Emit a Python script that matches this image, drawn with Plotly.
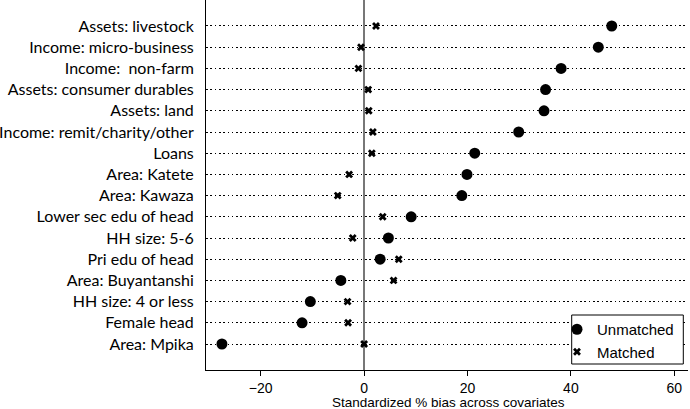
import plotly.graph_objects as go

covariates = [
    "Assets: livestock", "Income: micro-business", "Income:  non-farm",
    "Assets: consumer durables", "Assets: land", "Income: remit/charity/other",
    "Loans", "Area: Katete", "Area: Kawaza", "Lower sec edu of head",
    "HH size: 5-6", "Pri edu of head", "Area: Buyantanshi",
    "HH size: 4 or less", "Female head", "Area: Mpika",
]
unmatched = [47.9, 45.3, 38.1, 35.1, 34.8, 29.9, 21.4, 19.9, 18.9, 9.1,
             4.7, 3.1, -4.5, -10.4, -12.0, -27.5]
matched = [2.3, -0.6, -1.1, 0.8, 0.9, 1.7, 1.5, -2.9, -5.1, 3.6,
           -2.2, 6.7, 5.7, -3.2, -3.1, 0.0]
x_ticks = [-20, 0, 20, 40, 60]

n = len(covariates)
ypos = [n - i for i in range(n)]

W, H = 690, 409
ML, MR, MT, MB = 206, 2, 0, 39
PW, PH = W - ML - MR, H - MT - MB

def px2x(px):
    return (px - ML) / PW

def py2y(py):
    return (H - MB - py) / PH

fig = go.Figure()
fig.add_trace(go.Scatter(
    x=unmatched, y=ypos, mode="markers", name="Unmatched",
    marker=dict(symbol="circle", size=11, color="black"),
))
fig.add_trace(go.Scatter(
    x=matched, y=ypos, mode="markers", name="Matched",
    marker=dict(symbol="x", size=7, color="black"),
))

# legend frame
fig.add_shape(type="rect", xref="paper", yref="paper",
              x0=px2x(571.7), x1=px2x(683.3), y0=py2y(364), y1=py2y(315),
              line=dict(color="black", width=1), fillcolor="white", layer="above")

fig.add_annotation(
    text="Standardized % bias across covariates", xref="paper", yref="paper",
    x=px2x(448), y=py2y(402.5), xanchor="center", yanchor="middle", showarrow=False,
    font=dict(family="Liberation Sans", size=13.5, color="black"),
)

fig.update_layout(
    width=W, height=H,
    margin=dict(l=ML, r=MR, t=MT, b=MB, autoexpand=False),
    plot_bgcolor="white", paper_bgcolor="white",
    showlegend=True,
    legend=dict(
        x=px2x(557), y=py2y(313), xanchor="left", yanchor="top",
        borderwidth=0, bgcolor="rgba(0,0,0,0)",
        font=dict(family="Liberation Sans", size=15, color="black"),
        itemwidth=30, tracegroupgap=0,
    ),
    xaxis=dict(
        range=[-30.58, 62.65], tickvals=x_ticks, automargin=False,
        ticks="outside", ticklen=5, tickcolor="black",
        showline=True, linecolor="black", linewidth=1,
        showgrid=False,
        zeroline=True, zerolinecolor="#777777", zerolinewidth=1.5,
        tickfont=dict(family="Liberation Sans", size=14, color="black"),
    ),
    yaxis=dict(
        range=[-0.226, n + 1.226], tickvals=ypos, ticktext=covariates,
        automargin=False,
        ticks="", showline=True, linecolor="black", linewidth=1,
        showgrid=True, gridcolor="black", gridwidth=1.3, griddash="1.6px,2.7px",
        zeroline=False, ticklabelstandoff=8,
        tickfont=dict(family="Lato", size=16, color="black"),
    ),
)

fig.write_html(
    "out.html",
    config={"displayModeBar": False},
    post_script="document.body.style.margin='0';document.body.style.overflow='hidden';",
)
